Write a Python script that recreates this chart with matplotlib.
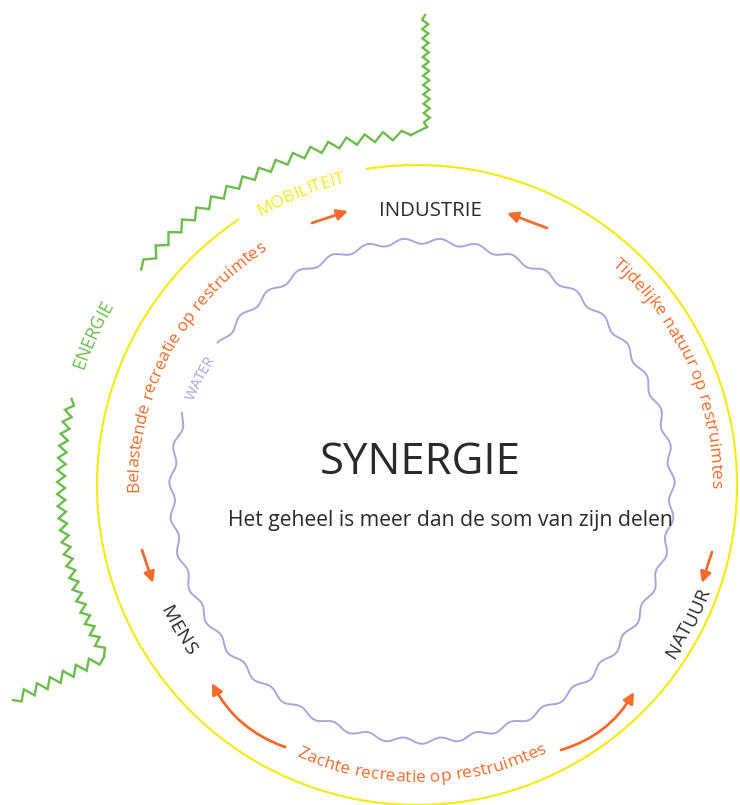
import numpy as np
import matplotlib
matplotlib.use('Agg')
import matplotlib.pyplot as plt
from matplotlib.font_manager import FontProperties

FONT = 'Open Sans'
ORANGE = '#f26b2b'
YELLOW = '#f7ea1a'
GREEN = '#6cbd4c'
PURPLE = '#aaa5dc'
DARK = '#2a2a2a'

# ring geometry, in pixels of the 740x805 picture
CX, CY = 417, 485
R_YELLOW = 320
YELLOW_GAP = (99, 124)
PCX, PCY = 422, 491
R_PURPLE = 250
PURPLE_GAP = (144, 162)
N_WAVES = 43

# labels that follow the rings
arc_text = ['MOBILITEIT', 'WATER', 'ENERGIE',
            'Belastende recreatie op restruimtes',
            'Tijdelijke natuur op restruimtes',
            'Zachte recreatie op restruimtes',
            'MENS', 'NATUUR']
arc_radius = [315, 242, 358, 283, 298, 293, 280, 306]
arc_theta = [111.8, 153.8, 155.2, 152, 24, 271, 211.2, 332.9]
arc_size = [12.5, 10.5, 13, 12.5, 12.5, 12.5, 14, 13.5]
arc_color = [YELLOW, PURPLE, GREEN, ORANGE, ORANGE, ORANGE, DARK, DARK]
arc_cw = [True, True, True, True, True, False, False, False]

# orange arrows (tail -> head)
arrow_tail = [(312, 223), (547, 228), (142, 550), (712, 552), (285, 747), (561, 750)]
arrow_head = [(348, 211), (507, 213), (153, 583), (702, 583), (212, 683), (634, 692)]
arrow_rad = [0, 0, 0, 0, -0.2, 0.2]

# green zigzag lines: (start angle, end angle, radius) arcs and straight pieces
green_arcs = [(142, 91, 350, 18, 4.5), (166, 208.5, 356, 12, 4)]
green_lines = [((427, 127), (425, 15), 9, 3), ((104, 657), (13, 700), 14, 5)]

fig = plt.figure(figsize=(7.4, 8.05), dpi=100)
ax = fig.add_axes([0, 0, 1, 1])
ax.set_xlim(0, 740)
ax.set_ylim(805, 0)
ax.axis('off')
renderer = fig.canvas.get_renderer()


def polar(cx, cy, r, th):
    t = np.radians(th)
    return cx + r*np.cos(t), cy - r*np.sin(t)


def zigzag(px, py, period, amp):
    d = np.hypot(np.diff(px), np.diff(py))
    s = np.concatenate([[0], np.cumsum(d)])
    n = max(2, int(s[-1] / (period/2)))
    t = np.linspace(0, s[-1], n+1)
    x = np.interp(t, s, px)
    y = np.interp(t, s, py)
    gx = np.gradient(x)
    gy = np.gradient(y)
    nrm = np.hypot(gx, gy)
    sign = (-1.0)**np.arange(len(x))
    sign[0] = 0
    sign[-1] = 0
    return x - amp*sign*gy/nrm, y + amp*sign*gx/nrm


def arc_label(s, r, th_mid, size, color, cw):
    fp = FontProperties(family=FONT, size=size)
    width = lambda q: renderer.get_text_width_height_descent(q, fp, ismath=False)[0] if q else 0
    total = width(s)
    for i, ch in enumerate(s):
        if ch == ' ':
            continue
        p = (width(s[:i]) + width(s[:i+1])) / 2
        off = np.degrees((p - total/2) / r)
        th = th_mid - off if cw else th_mid + off
        x, y = polar(CX, CY, r, th)
        rot = th - 90 if cw else th + 90
        ax.text(x, y, ch, fontproperties=fp, color=color, rotation=rot,
                rotation_mode='anchor', ha='center', va='center')


# yellow ring
th = np.linspace(YELLOW_GAP[1], YELLOW_GAP[0] + 360, 900)
x, y = polar(CX, CY, R_YELLOW, th)
ax.plot(x, y, color=YELLOW, lw=1.6)

# purple wavy ring
th = np.linspace(PURPLE_GAP[1], PURPLE_GAP[0] + 360, 3000)
rr = R_PURPLE + 2.8*np.sin(np.radians(th)*N_WAVES)
x, y = polar(PCX, PCY, rr, th)
ax.plot(x, y, color=PURPLE, lw=1.4)

# green zigzags
for a0, a1, r, per, amp in green_arcs:
    th = np.linspace(a0, a1, 400)
    x, y = polar(CX, CY, r, th)
    zx, zy = zigzag(x, y, per, amp)
    ax.plot(zx, zy, color=GREEN, lw=1.7, solid_joinstyle='miter')
for (x0, y0), (x1, y1), per, amp in green_lines:
    zx, zy = zigzag(np.array([x0, x1]), np.array([y0, y1]), per, amp)
    ax.plot(zx, zy, color=GREEN, lw=1.7, solid_joinstyle='miter')
# joints between the pieces
x, y = polar(CX, CY, green_arcs[0][2], green_arcs[0][1])
ax.plot([x, green_lines[0][0][0]], [y, green_lines[0][0][1]], color=GREEN, lw=1.7)
x, y = polar(CX, CY, green_arcs[1][2], green_arcs[1][1])
ax.plot([x, green_lines[1][0][0]], [y, green_lines[1][0][1]], color=GREEN, lw=1.7)

# arrows
for tail, head, rad in zip(arrow_tail, arrow_head, arrow_rad):
    ax.annotate('', xy=head, xytext=tail,
                arrowprops=dict(arrowstyle='-|>', color=ORANGE, lw=2,
                                mutation_scale=16, shrinkA=0, shrinkB=0,
                                connectionstyle='arc3,rad=%s' % rad))

for s, r, t, sz, c, cw in zip(arc_text, arc_radius, arc_theta, arc_size, arc_color, arc_cw):
    arc_label(s, r, t, sz, c, cw)

ax.text(430, 211, 'INDUSTRIE', family=FONT, size=14.7, color=DARK, ha='center', va='center')
ax.text(420, 463, 'SYNERGIE', family=FONT, size=31.5, color=DARK, ha='center', va='center')
ax.text(450, 520, 'Het geheel is meer dan de som van zijn delen', family=FONT, size=15.2,
        color=DARK, ha='center', va='center')

fig.savefig('out.png', dpi=100)
